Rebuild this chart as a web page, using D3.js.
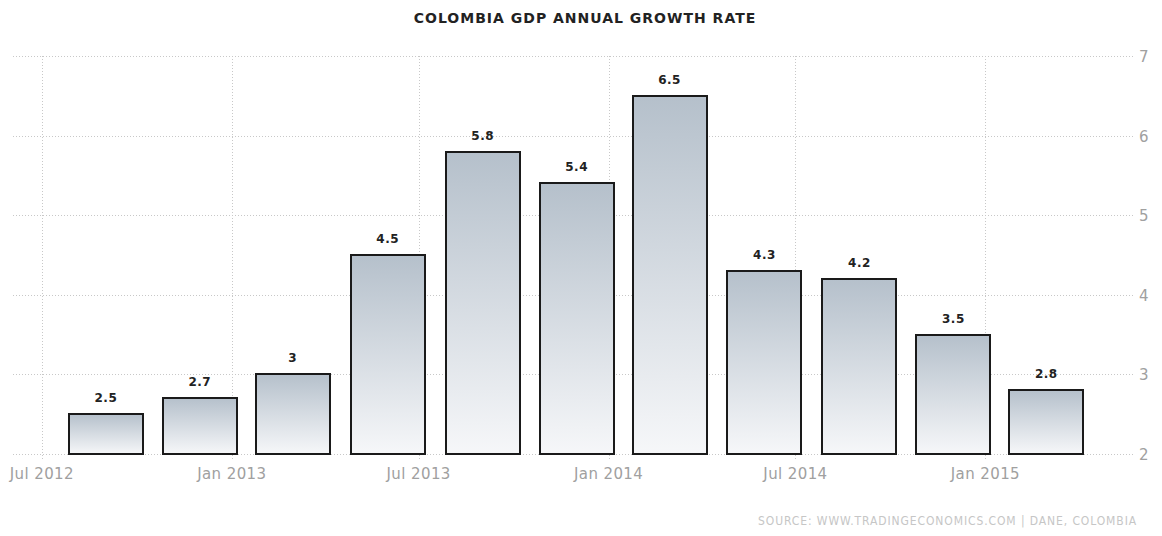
<!DOCTYPE html>
<html>
<head>
<meta charset="utf-8">
<script src="https://cdn.jsdelivr.net/npm/d3@7"></script>
<style>
body { margin: 0; background: #fff; }
svg { display: block; }
</style>
</head>
<body>
<svg id="chart" width="1162" height="536"></svg>
<script>
// quarterly GDP growth, bar dates
var dates = ["2012-09-01", "2012-12-01", "2013-03-01", "2013-06-01", "2013-09-01", "2013-12-01",
             "2014-03-01", "2014-06-01", "2014-09-01", "2014-12-01", "2015-03-01"];
var values = [2.5, 2.7, 3, 4.5, 5.8, 5.4, 6.5, 4.3, 4.2, 3.5, 2.8];
var xTicks = ["2012-07-01", "2013-01-01", "2013-07-01", "2014-01-01", "2014-07-01", "2015-01-01"];
var yTicks = [2, 3, 4, 5, 6, 7];

function drawChart() {
    var parse = d3.timeParse("%Y-%m-%d");
    var svg = d3.select("#chart");

    var plotLeft = 13, plotRight = 1133, plotTop = 56, plotBottom = 454;

    var x = d3.scaleTime()
        .domain([parse("2012-06-03"), parse("2015-05-24")])
        .range([plotLeft, plotRight]);
    var y = d3.scaleLinear().domain([2, 7]).range([plotBottom, plotTop]);

    var grad = svg.append("defs").append("linearGradient")
        .attr("id", "barGrad")
        .attr("x1", 0).attr("y1", 0).attr("x2", 0).attr("y2", 1);
    grad.append("stop").attr("offset", "0%").attr("stop-color", "#b5c0cb");
    grad.append("stop").attr("offset", "100%").attr("stop-color", "#f6f7f9");

    // title
    svg.append("text")
        .attr("x", 585).attr("y", 23)
        .attr("text-anchor", "middle")
        .style("font-family", "'DejaVu Sans', sans-serif")
        .style("font-weight", "bold")
        .style("font-size", "14px")
        .style("letter-spacing", "1px")
        .style("fill", "#222")
        .text("COLOMBIA GDP ANNUAL GROWTH RATE");

    //horizontal grid
    svg.append("g")
        .selectAll("line")
        .data(yTicks)
        .enter().append("line")
        .attr("x1", plotLeft).attr("x2", plotRight + 2)
        .attr("y1", function(d) { return Math.round(y(d)) + 0.5; })
        .attr("y2", function(d) { return Math.round(y(d)) + 0.5; })
        .style("stroke", "#c8c8c8")
        .style("stroke-width", "1px")
        .style("stroke-dasharray", "1,2");

    //vertical grid
    svg.append("g")
        .selectAll("line")
        .data(xTicks)
        .enter().append("line")
        .attr("x1", function(d) { return Math.round(x(parse(d))) + 0.5; })
        .attr("x2", function(d) { return Math.round(x(parse(d))) + 0.5; })
        .attr("y1", plotTop).attr("y2", plotBottom + 7)
        .style("stroke", "#c8c8c8")
        .style("stroke-width", "1px")
        .style("stroke-dasharray", "1,2");

    //y labels
    svg.append("g")
        .selectAll("text")
        .data(yTicks)
        .enter().append("text")
        .attr("x", plotRight + 6)
        .attr("y", function(d) { return y(d) + 6; })
        .style("font-family", "'DejaVu Sans', sans-serif")
        .style("font-size", "15px")
        .style("fill", "#a0a0a0")
        .text(function(d) { return d; });

    //x labels
    var fmt = d3.timeFormat("%b %Y");
    svg.append("g")
        .selectAll("text")
        .data(xTicks)
        .enter().append("text")
        .attr("x", function(d) { return x(parse(d)); })
        .attr("y", 479)
        .attr("text-anchor", "middle")
        .style("font-family", "'DejaVu Sans', sans-serif")
        .style("font-size", "15px")
        .style("letter-spacing", "0.4px")
        .style("fill", "#a0a0a0")
        .text(function(d) { return fmt(parse(d)); });

    //bars
    var bars = dates.map(function(d, i) { return { date: parse(d), value: values[i] }; });
    var step = x(parse(dates[1])) - x(parse(dates[0]));
    var bw = Math.round(step * 0.79);

    svg.append("g")
        .selectAll("rect")
        .data(bars)
        .enter().append("rect")
        .attr("x", function(d) { return Math.round(x(d.date) - bw / 2); })
        .attr("y", function(d) { return Math.round(y(d.value)); })
        .attr("width", bw)
        .attr("height", function(d) { return Math.round(y(2)) - Math.round(y(d.value)); })
        .style("fill", "url(#barGrad)")
        .style("stroke", "#1a1a1a")
        .style("stroke-width", "2px");

    //value labels
    svg.append("g")
        .selectAll("text")
        .data(bars)
        .enter().append("text")
        .attr("x", function(d) { return x(d.date); })
        .attr("y", function(d) { return y(d.value) - 12; })
        .attr("text-anchor", "middle")
        .style("font-family", "'DejaVu Sans', sans-serif")
        .style("font-weight", "bold")
        .style("font-size", "12px")
        .style("letter-spacing", "0.5px")
        .style("fill", "#222")
        .text(function(d) { return d.value; });

    //source
    svg.append("text")
        .attr("x", 1137).attr("y", 525)
        .attr("text-anchor", "end")
        .style("font-family", "'DejaVu Sans Condensed', 'DejaVu Sans', sans-serif")
        .style("font-size", "12px")
        .style("letter-spacing", "0.9px")
        .style("fill", "#c6c6c6")
        .text("SOURCE: WWW.TRADINGECONOMICS.COM | DANE, COLOMBIA");
}

drawChart();
</script>
</body>
</html>
